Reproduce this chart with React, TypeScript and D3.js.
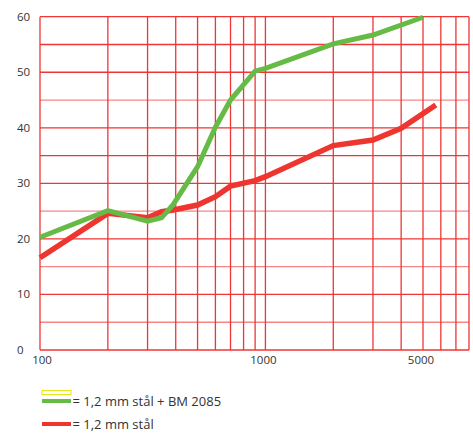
import { useEffect } from 'react';
import * as d3 from 'd3';

// frequency (Hz) / reduction (dB)
const greenFreq = [100, 200, 300, 346, 390, 500, 600, 700, 900, 1000, 2000, 3000, 5000];
const greenVal = [20.3, 25.1, 23.2, 23.8, 26.2, 33.0, 40.1, 45.0, 50.2, 50.7, 55.1, 56.7, 59.9];
const redFreq = [100, 200, 300, 346, 390, 500, 600, 700, 900, 1000, 2000, 3000, 4000, 5700];
const redVal = [16.6, 24.6, 23.8, 24.9, 25.2, 26.1, 27.6, 29.5, 30.5, 31.2, 36.8, 37.8, 39.9, 44.1];

const xGrid = [100, 200, 300, 400, 500, 600, 700, 800, 900, 1000, 2000, 3000, 4000, 5000, 6000, 7000, 8000];
const xLabels = [100, 1000, 5000];
const yGrid = d3.range(0, 61, 5);
const yLabels = [0, 10, 20, 30, 40, 50, 60];
const faintY = [5, 15, 25, 45];

const legendItems = ['= 1,2 mm stål + BM 2085', '= 1,2 mm stål'];

const W = 473;
const H = 435;
const GRID = '#ef3535';
const GREEN = '#66bb46';
const RED = '#ef3530';
const FONT = '"Open Sans", sans-serif';

export default function App() {
  useEffect(() => {
    document.body.style.margin = '0';
  }, []);

  const x = d3.scaleLog().domain([100, 8000]).range([40, 469]);
  const y = d3.scaleLinear().domain([0, 60]).range([350, 16.7]);

  const line = d3
    .line<[number, number]>()
    .x(d => x(d[0]))
    .y(d => y(d[1]));

  const greenPts = greenFreq.map((f, i) => [f, greenVal[i]] as [number, number]);
  const redPts = redFreq.map((f, i) => [f, redVal[i]] as [number, number]);

  return (
    <svg width={W} height={H} style={{ display: 'block' }} fontFamily={FONT}>
      <rect width={W} height={H} fill="#fff" />

      {/* grid */}
      <g>
        {yGrid.map(v => (
          <line
            key={'h' + v}
            x1={x(100)}
            x2={x(8000)}
            y1={y(v)}
            y2={y(v)}
            stroke={GRID}
            strokeOpacity={faintY.includes(v) ? 0.6 : 1}
            strokeWidth={1.3}
          />
        ))}
        {xGrid.map(v => (
          <line
            key={'v' + v}
            x1={x(v)}
            x2={x(v)}
            y1={y(0)}
            y2={y(60)}
            stroke={GRID}
            strokeWidth={1.3}
          />
        ))}
      </g>

      {/* axis labels */}
      <g fill="#333" fontSize={11.5}>
        {yLabels.map(v => (
          <text key={'yl' + v} x={17} y={y(v)} dy="0.35em">
            {v}
          </text>
        ))}
        {xLabels.map(v => (
          <text key={'xl' + v} x={x(v) - (v === 100 ? -2 : 2)} y={364} textAnchor="middle">
            {v}
          </text>
        ))}
      </g>

      {/* series */}
      <path d={line(redPts) ?? ''} fill="none" stroke={RED} strokeWidth={5.5} strokeLinejoin="miter" />
      <path d={line(greenPts) ?? ''} fill="none" stroke={GREEN} strokeWidth={5} strokeLinejoin="miter" />

      {/* legend */}
      <g>
        <rect x={42} y={390.5} width={29} height={4} fill="#fff" stroke="#e6e61a" strokeWidth={1} />
        <line x1={42} x2={71} y1={401} y2={401} stroke={GREEN} strokeWidth={4} />
        <line x1={42} x2={71} y1={424} y2={424} stroke={RED} strokeWidth={4} />
        <text x={72.5} y={405.5} fontSize={13} fill="#333">
          {legendItems[0]}
        </text>
        <text x={72.5} y={428.5} fontSize={13} fill="#333">
          {legendItems[1]}
        </text>
      </g>
    </svg>
  );
}
